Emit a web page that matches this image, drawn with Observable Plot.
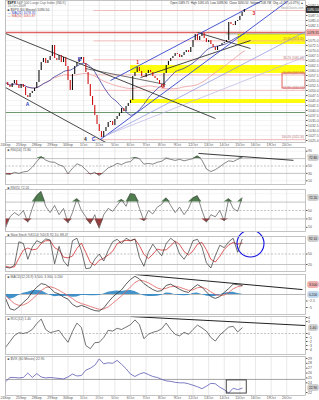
<!DOCTYPE html>
<html><head><meta charset="utf-8">
<script src="https://cdn.jsdelivr.net/npm/d3@7"></script>
<script src="https://cdn.jsdelivr.net/npm/@observablehq/plot@0.6"></script>
<style>
html,body{margin:0;padding:0;background:#fff;}
#chart{width:319px;height:400px;overflow:hidden;}
#chart svg{display:block;}
</style></head><body><div id="chart"></div>
<script>
// ---------- data ----------
const dayLabels = ["24Sep","25Sep","28Sep","29Sep","30Sep","1Oct","2Oct","5Oct","6Oct","7Oct","8Oct","9Oct","12Oct","13Oct","14Oct","15Oct","16Oct","19Oct","20Oct"];
// hourly closes, 7 bars per day
const closes = [1054,1052.5,1051.5,1053.5,1055,1052.5,1051,1053,1051.5,1047.5,
1046.5,1048.5,1049.5,1051,1054,1060,1064,1066,1063.5,1065,
1067,1072.5,1066,1065,1067.5,1064,1066.5,1062,1055,1050,
1058,1062,1064,1065.5,1066.5,1063.5,1059,1053,1047,1042.5,
1037.5,1033,1029.5,1026.5,1029.5,1031.5,1034,1034.5,1032.5,1035.5,
1037,1038.5,1041,1039.5,1042,1043.5,1045,1057,1059,1061.5,
1059.5,1057,1056.5,1058.5,1060,1059,1057,1056,1055,1053,
1051.5,1058.5,1062.5,1064.5,1066,1067,1068.5,1068,1066.5,1067.5,
1069,1070,1069,1071.5,1075,1078,1075,1077,1078.5,1076,
1074,1075,1073,1071.5,1070,1072,1072.5,1073.5,1074,1075,
1084,1083,1082.5,1084.5,1085,1087,1089,1090.5];
// indicator series, one value every 2 bars
const rsi14 = [28,27,33,30,34,36,47,62,75,66,61,60,53,49,29,44,56,51,40,28,33,24,34,45,50,57,54,60,62,73,70,55,57,55,60,63,71,68,65,68,64,67,70,77,66,42,35,40,48,57,64,62,68,73];
const rsi5 = [8,35,45,38,50,22,55,85,95,60,45,62,40,55,20,45,78,50,35,18,40,8,40,55,48,62,76,60,90,88,55,25,50,42,58,65,80,62,45,58,40,55,80,85,50,22,40,35,50,25,78,55,48,80];
const stochK = [12,10,18,85,80,35,70,88,82,93,90,22,72,30,15,88,95,60,8,10,35,50,30,60,85,92,80,95,88,93,40,15,55,78,60,45,80,95,85,50,35,55,88,92,70,25,10,45,75,68,85,95,55,92];
const stochD = [15,12,13,38,61,67,62,64,80,88,88,68,61,41,39,44,66,81,54,26,18,32,38,47,58,79,86,89,88,92,74,49,37,49,64,61,62,73,87,77,57,47,59,78,83,62,35,27,43,63,76,83,78,81];
const macd = [-1.5,-5.5,-6.0,-4.8,-3.0,-1.5,1.0,2.8,4.2,3.8,2.5,0.8,0.2,-1.0,-1.8,-3.8,-4.8,-4.2,-4.8,-5.6,-6.2,-6.4,-5.2,-3.0,-1.0,0.5,1.8,4.0,5.8,7.0,6.0,4.2,3.0,1.9,1.2,1.5,3.5,4.0,3.0,2.0,1.2,0.8,2.5,3.8,2.8,1.0,-0.8,-1.5,-0.8,0.8,2.3,4.0,3.8,3.5];
const macdSignal = [-0.5,-2.0,-3.5,-4.2,-4.0,-3.2,-1.8,-0.2,1.5,2.7,3.0,2.5,1.6,0.6,-0.4,-1.6,-2.8,-3.5,-4.0,-4.6,-5.2,-5.7,-5.6,-4.8,-3.4,-2.0,-0.5,1.2,2.9,4.6,5.5,5.2,4.5,3.5,2.5,2.0,2.4,3.0,3.2,2.8,2.2,1.6,1.8,2.6,2.8,2.2,1.0,0.0,-0.5,-0.2,0.8,2.2,3.0,3.3];
const macdHist = [-0.5,-1.8,-1.3,-0.3,0.5,0.9,1.4,1.5,1.4,0.6,-0.3,-0.9,-0.7,-0.8,-0.7,-1.1,-1.0,-0.4,-0.4,-0.5,-0.5,-0.4,0.2,0.9,1.2,1.3,1.2,1.4,1.5,1.2,0.3,-0.5,-0.8,-0.8,-0.7,-0.3,0.6,0.5,-0.1,-0.4,-0.5,-0.4,0.4,0.6,0,-0.6,-0.9,-0.8,-0.2,0.5,0.8,0.9,0.4,0.1];
const roc = [-3.5,-2,-0.5,0.2,0,0.3,1.0,2.5,3.6,1.0,0.2,0.5,0.8,-0.8,-2.2,0.5,2.6,1.5,-3.0,-3.8,-2.3,-2.2,-1.0,0.8,0.6,1.3,1.0,1.6,2.2,3.4,2.2,-1.3,-0.2,0.3,0.6,1.2,2.6,1.0,-0.2,-0.6,0.3,-0.2,1.0,2.1,1.4,0.6,-1.0,-1.9,-0.4,0.6,1.6,1.8,0.4,1.4];
const vix = [24.2,25.1,25.1,25.0,25.1,26.0,25.1,25.9,25.2,25.0,25.1,25.0,24.9,24.8,25.2,25.8,25.4,25.5,26.6,27.0,27.6,28.9,27.9,28.1,28.0,28.6,27.8,26.9,25.8,25.3,25.8,26.1,25.7,25.3,25.1,24.7,24.4,24.3,24.1,24.0,24.0,23.8,23.5,23.2,22.8,23.3,23.9,23.8,23.1,22.6,21.9,22.9,22.6,22.9];

// annotations (day, price)
const trendLines = [
  {x1:0, y1:1078.5, x2:13.44, y2:1036, color:"#333", w:0.9},
  {x1:0, y1:1051.5, x2:7.36, y2:1020, color:"#333", w:0.9},
  {x1:12.29, y1:1079, x2:15.68, y2:1071, color:"#333", w:0.9},
  {x1:8.64, y1:1056.5, x2:15.68, y2:1075, color:"#333", w:0.9},
  {x1:5.1, y1:1061, x2:10.24, y2:1053, color:"#333", w:0.7},
  {x1:6.72, y1:1055, x2:16.45, y2:1095, color:"#3344cc", w:0.9},
  {x1:6.08, y1:1025.5, x2:18.11, y2:1095, color:"#3344cc", w:0.9},
  {x1:6.08, y1:1026, x2:19.2, y2:1079.5, color:"#8a8fe0", w:0.7},
  {x1:6.08, y1:1026.5, x2:19.2, y2:1067, color:"#b9b3e6", w:0.7}
];
const yellowBands = [
  {x1:14.88, x2:19.2, y1:1073, y2:1078},
  {x1:8.0, x2:19.2, y1:1058.5, y2:1062.5},
  {x1:8.0, x2:19.2, y1:1043.5, y2:1045.5}
];
const levelLines = [
  {x1:0, x2:19.2, y:1079, color:"#e06666", w:1.4},
  {x1:0, x2:19.2, y:1039, color:"#6f9a6f", w:1},
  {x1:14.1, x2:19.2, y:1078.3, color:"#6f8f6f", w:0.7}
];
const fibLevels = [
  {p:"0.0%", y:1090}, {p:"23.6%", y:1074.8}, {p:"38.2%", y:1065.4},
  {p:"50.0%", y:1057.8}, {p:"61.8%", y:1050.1}, {p:"100.0%", y:1025.5}
];
const redBox = [{x1:17.73, x2:19.2, y1:1051, y2:1058.5}];
const waveLabels = [
  {d:1.41, p:1043, t:"A", c:"#2f3fbf"}, {d:4.74, p:1065.5, t:"B", c:"#2f3fbf"},
  {d:5.12, p:1025.5, t:"4", c:"#333"}, {d:5.63, p:1025.5, t:"C", c:"#2f3fbf"},
  {d:8.45, p:1064, t:"1", c:"#dd2222"}, {d:10.1, p:1052, t:"2", c:"#dd2222"},
  {d:15.9, p:1088.5, t:"3", c:"#dd2222"}
];
const stochCircle = [{d:15.68, v:80}];
const vixBox = [{x1:14.16, x2:15.44, y1:21.8, y2:24.5}];

// ---------- helpers ----------
const FONT = "Liberation Sans, Arial, Helvetica, sans-serif";
const xDom = [0, 19.2];
const dayTicks = dayLabels.map((_, k) => k);
const priceData = closes.map((c, i) => ({d: i / 7, close: c, prev: i ? closes[i - 1] : c}));
const ind = arr => arr.map((v, i) => ({d: 2 * i / 7, v}));
const last = a => a[a.length - 1];
const clear = (ticks, boxes, gap) => ticks.filter(t => boxes.every(b => Math.abs(t - b) >= gap));

function panel({height, marginTop, marginBottom, yDomain, yTicks, yFormat, gridY, marks, xAxis}) {
  return Plot.plot({
    width: 319, height, marginLeft: 5, marginRight: 14, marginTop, marginBottom,
    style: {fontFamily: FONT, fontSize: "3.5px", color: "#555", background: "transparent"},
    x: {domain: xDom, axis: xAxis ? "bottom" : null, ticks: dayTicks, tickFormat: k => dayLabels[k] ?? "", tickSize: 0, tickPadding: 1},
    y: {domain: yDomain, axis: "right", ticks: yTicks, tickFormat: yFormat, tickSize: 1.5, tickPadding: 1, label: null},
    marks: [
      Plot.ruleY(gridY || [], {stroke: "#eeeeee", strokeWidth: 0.6}),
      Plot.ruleX(dayTicks, {stroke: "#dadada", strokeWidth: 0.6}),
      ...marks,
      Plot.frame({stroke: "#b5b5b5", strokeWidth: 0.8})
    ]
  });
}
function titleText(t, dy, fill, dx = 2, weight = "normal", size = 3.3) {
  return Plot.text([t], {frameAnchor: "top-left", text: d => d, dx, dy, fill, fontSize: size, fontWeight: weight, textAnchor: "start"});
}
function valueBox(val, txt, bg, fg = "white") {
  return Plot.text([val], {x: () => xDom[1], y: d => d, text: () => txt, dx: 7.5, fill: fg, stroke: bg, strokeWidth: 4, fontSize: 3.3, textAnchor: "middle"});
}

const chart = document.getElementById("chart");

// ---------- main price panel ----------
const mainTicks = d3.range(1025, 1095, 2.5);
chart.append(panel({
  height: 147, marginTop: 0, marginBottom: 5,
  yDomain: [1024, 1095], yTicks: clear(mainTicks, [last(closes), 1079], 2), yFormat: d3.format(".1f"), gridY: mainTicks, xAxis: true,
  marks: [
    Plot.rect(yellowBands, {x1: "x1", x2: "x2", y1: "y1", y2: "y2", fill: "#ffff00", fillOpacity: 0.95}),
    Plot.link(fibLevels, {x1: () => 5.63, x2: () => 19.2, y1: "y", y2: "y", stroke: "#f3a5a5", strokeWidth: 0.7}),
    Plot.text(fibLevels.slice(1), {x: () => 19.1, y: "y", text: d => `${d.p} (${d.y.toFixed(2)})`, dy: -2, fontSize: 2.8, fill: "#b07070", textAnchor: "end"}),
    ...levelLines.map(l => Plot.link([l], {x1: "x1", x2: "x2", y1: "y", y2: "y", stroke: l.color, strokeWidth: l.w})),
    Plot.rect(redBox, {x1: "x1", x2: "x2", y1: "y1", y2: "y2", fill: "none", stroke: "#e05050", strokeWidth: 0.9}),
    Plot.lineY(priceData, Plot.windowY({k: 50, anchor: "end", reduce: "mean"}, {x: "d", y: "close", stroke: "#ec9a9a", strokeWidth: 0.8})),
    Plot.lineY(priceData, Plot.windowY({k: 20, anchor: "end", reduce: "mean"}, {x: "d", y: "close", stroke: "#3b3b9c", strokeWidth: 0.8})),
    ...trendLines.map(l => Plot.link([l], {x1: "x1", y1: "y1", x2: "x2", y2: "y2", stroke: l.color, strokeWidth: l.w, clip: true})),
    Plot.ruleX(priceData, {x: "d", y1: "prev", y2: "close", stroke: d => d.close >= d.prev ? "#111" : "#cc1111", strokeWidth: 1.1}),
    Plot.text(waveLabels, {x: "d", y: "p", text: "t", fill: "c", fontSize: 5, fontWeight: "bold"}),
    titleText("$SPX", 1, "#111", 2, "bold", 3.3),
    titleText("S&P 500 Large Cap Index (INDX)", 1, "#666", 11),
    titleText("15-Oct-2009", 4.5, "#777"),
    titleText("\u25A0 $SPX (60 Minute) 1090.50", 8, "#444"),
    titleText("\u2014 MA(20) 1078.35", 11.3, "#3344bb"),
    titleText("\u2014 MA(50) 1065.87", 14.6, "#d05555"),
    Plot.text(["Open 1089.75  High 1091.05  Low 1088.90  Close 1090.50  Volume 108.7M  Chg +0.75 (+0.07%) \u25B2"], {frameAnchor: "top-right", text: d => d, dx: -2, dy: 1.5, fontSize: 3, fill: "#333", textAnchor: "end"}),
    Plot.text(["\u00A9 StockCharts.com"], {frameAnchor: "top-right", text: d => d, dx: -2, dy: 6, fontSize: 3, fill: "#999", textAnchor: "end"}),
    valueBox(1079, "1078.35", "#f2b0b0", "#333"),
    valueBox(last(closes), last(closes).toFixed(2), "#333")
  ]
}));

// ---------- RSI(14) ----------
const r14 = ind(rsi14);
chart.append(panel({
  height: 38, marginTop: 0, marginBottom: 1,
  yDomain: [0, 100], yTicks: clear([10, 30, 50, 70, 90], [last(rsi14)], 11), yFormat: d3.format("d"), gridY: [10, 90],
  marks: [
    Plot.ruleY([70, 30], {stroke: "#aaa", strokeWidth: 0.7}),
    Plot.ruleY([50], {stroke: "#aaa", strokeWidth: 0.7, strokeDasharray: "2,1.5"}),
    Plot.areaY(r14, {x: "d", y1: 70, y2: d => Math.max(d.v, 70), fill: "#4e7d4e"}),
    Plot.areaY(r14, {x: "d", y1: 30, y2: d => Math.min(d.v, 30), fill: "#9c3c3c"}),
    Plot.lineY(r14, {x: "d", y: "v", stroke: "#555", strokeWidth: 0.7}),
    Plot.link([{x1: 12.35, y1: 84, x2: 18.43, y2: 65.3}], {x1: "x1", y1: "y1", x2: "x2", y2: "y2", stroke: "#222", strokeWidth: 0.9}),
    titleText("\u25A0 RSI(14) 72.80", 1.5, "#555"),
    valueBox(last(rsi14), "72.80", "#cfcfcf", "#222")
  ]
}));

// ---------- RSI(5) with fills ----------
const r5 = ind(rsi5);
chart.append(panel({
  height: 47, marginTop: 4, marginBottom: 1,
  yDomain: [0, 100], yTicks: clear([10, 30, 50, 70, 90], [last(rsi5)], 10.5), yFormat: d3.format("d"), gridY: [10, 90],
  marks: [
    Plot.ruleY([70, 30], {stroke: "#aaa", strokeWidth: 0.7}),
    Plot.ruleY([50], {stroke: "#aaa", strokeWidth: 0.7, strokeDasharray: "2,1.5"}),
    Plot.areaY(r5, {x: "d", y1: 70, y2: d => Math.max(d.v, 70), fill: "#4e7d4e"}),
    Plot.areaY(r5, {x: "d", y1: 30, y2: d => Math.min(d.v, 30), fill: "#9c3c3c"}),
    Plot.lineY(r5, {x: "d", y: "v", stroke: "#555", strokeWidth: 0.7}),
    titleText("\u25A0 RSI(5) 72.20", -2.5, "#555"),
    valueBox(last(rsi5), "72.20", "#cfcfcf", "#222")
  ]
}));

// ---------- Slow Stochastic ----------
const sk = ind(stochK), sd = ind(stochD);
chart.append(panel({
  height: 41, marginTop: 4, marginBottom: 2,
  yDomain: [0, 100], yTicks: clear([20, 50, 80], [last(stochK)], 12.5), yFormat: d3.format("d"),
  marks: [
    Plot.ruleY([80, 20], {stroke: "#aaa", strokeWidth: 0.7}),
    Plot.ruleY([50], {stroke: "#aaa", strokeWidth: 0.7, strokeDasharray: "2,1.5"}),
    Plot.lineY(sd, {x: "d", y: "v", stroke: "#d03030", strokeWidth: 0.8}),
    Plot.lineY(sk, {x: "d", y: "v", stroke: "#333", strokeWidth: 0.7}),
    Plot.dot(stochCircle, {x: "d", y: "v", r: 13.5, stroke: "#1010e0", strokeWidth: 1.1, fill: "none"}),
    titleText("\u25A0 Slow Stoch %K(14) %D(3) 92.10, 88.47", -2.5, "#555"),
    valueBox(last(stochK), "92.10", "#cfcfcf", "#222")
  ]
}));

// ---------- MACD ----------
const md = macd.map((m, i) => ({d: 2 * i / 7, m, s: macdSignal[i], h: macdHist[i]}));
chart.append(panel({
  height: 42, marginTop: 1, marginBottom: 1,
  yDomain: [-7.7, 7.7], yTicks: clear([-5, -2.5, 0, 2.5, 5], [last(macd), 0], 1.6), yFormat: d3.format("~g"),
  marks: [
    Plot.ruleY([0], {stroke: "#999", strokeWidth: 0.7}),
    Plot.areaY(md, {x: "d", y: "h", fill: "#2f86c4", fillOpacity: 0.9}),
    Plot.lineY(md, {x: "d", y: "s", stroke: "#e06060", strokeWidth: 0.8}),
    Plot.lineY(md, {x: "d", y: "m", stroke: "#333", strokeWidth: 0.8}),
    Plot.link([{x1: 8.32, y1: 7.7, x2: 19.0, y2: 1.9}], {x1: "x1", y1: "y1", x2: "x2", y2: "y2", stroke: "#222", strokeWidth: 1}),
    titleText("\u25A0 MACD(12,26,9) 3.500, 3.300, 0.200", 1.5, "#555"),
    valueBox(last(macd), "3.500", "#f0b0b0", "#222"),
    valueBox(0, "0.200", "#c0d8ee", "#222")
  ]
}));

// ---------- ROC ----------
const rc = ind(roc);
chart.append(panel({
  height: 40, marginTop: 1, marginBottom: 1,
  yDomain: [-5.25, 4.25], yTicks: clear([-4, -3, -2, -1, 0, 1, 2, 3, 4], [last(roc)], 1), yFormat: d3.format("d"),
  marks: [
    Plot.ruleY([0], {stroke: "#aaa", strokeWidth: 0.7, strokeDasharray: "2,1.5"}),
    Plot.lineY(rc, {x: "d", y: "v", stroke: "#444", strokeWidth: 0.75}),
    Plot.link([{x1: 8.0, y1: 4.25, x2: 19.2, y2: 2.0}], {x1: "x1", y1: "y1", x2: "x2", y2: "y2", stroke: "#222", strokeWidth: 1}),
    titleText("\u25A0 ROC(12) 1.40", 1.5, "#555"),
    valueBox(last(roc), "1.40", "#cfcfcf", "#222")
  ]
}));

// ---------- VIX ----------
const vx = ind(vix);
chart.append(panel({
  height: 45, marginTop: 1, marginBottom: 5,
  yDomain: [21.4, 29.4], yTicks: clear([22, 23, 24, 25, 26, 27, 28, 29], [last(vix)], 0.85), yFormat: d3.format("d"), xAxis: true,
  marks: [
    Plot.ruleY([24.7], {stroke: "#999", strokeWidth: 0.9}),
    Plot.lineY(vx, {x: "d", y: "v", stroke: "#5a5ab4", strokeWidth: 0.8}),
    Plot.rect(vixBox, {x1: "x1", x2: "x2", y1: "y1", y2: "y2", fill: "none", stroke: "#333", strokeWidth: 0.9}),
    titleText("\u25A0 $VIX (60 Minute) 22.90", 1.5, "#555"),
    valueBox(last(vix), "22.90", "#cfcfcf", "#222")
  ]
}));
</script>
</body></html>
